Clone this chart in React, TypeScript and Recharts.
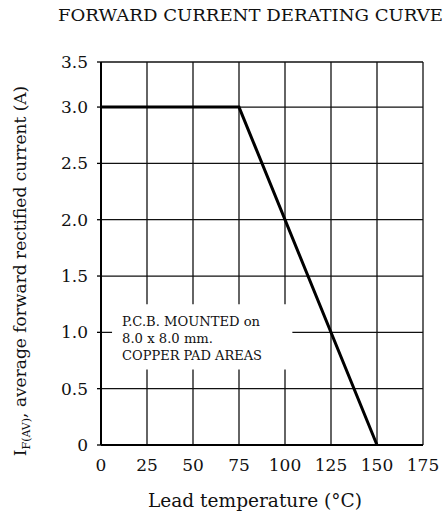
import React from 'react';
import { ComposedChart, Line, XAxis, YAxis, CartesianGrid, ReferenceArea } from 'recharts';

const temperatures = [0, 75, 150];
const currents = [3.0, 3.0, 0];
const xTicks = [0, 25, 50, 75, 100, 125, 150, 175];
const yTicks = [0, 0.5, 1.0, 1.5, 2.0, 2.5, 3.0, 3.4];
const yTickLabels = ['0', '0.5', '1.0', '1.5', '2.0', '2.5', '3.0', '3.5'];
const noteLines = ['P.C.B. MOUNTED on', '8.0 x 8.0 mm.', 'COPPER PAD AREAS'];
const noteWidths = [138, 91, 140];
const title = 'FORWARD CURRENT DERATING CURVE';
const xLabel = 'Lead temperature (°C)';

const data = temperatures.map((t, i) => ({ t, cur: currents[i] }));
const FONT = '"DejaVu Serif", serif';

const NoteLabel = (props: any) => {
  const vb = props.viewBox || { x: 0, y: 0 };
  const offsets = [22, 39, 56];
  return (
    <g>
      {noteLines.map((s, i) => (
        <text
          key={i}
          x={vb.x + 10}
          y={vb.y + offsets[i]}
          fontSize={12}
          fontFamily={FONT}
          fill="#111"
          textLength={noteWidths[i]}
          lengthAdjust="spacingAndGlyphs"
        >
          {s}
        </text>
      ))}
    </g>
  );
};

export default function App() {
  return (
    <div style={{ position: 'absolute', left: 0, top: 0, width: 445, height: 518, background: '#fff' }}>
      <ComposedChart
        width={445}
        height={518}
        data={data}
        margin={{ top: 62, right: 22, left: 0, bottom: 0 }}
      >
        <CartesianGrid stroke="#111" strokeWidth={1.3} />
        <XAxis
          dataKey="t"
          type="number"
          domain={[0, 175]}
          ticks={xTicks}
          interval={0}
          height={73}
          tickSize={0}
          tickMargin={14}
          axisLine={{ stroke: '#000', strokeWidth: 2 }}
          tick={{ fontSize: 17, fill: '#111', fontFamily: FONT }}
        />
        <YAxis
          type="number"
          domain={[0, 3.4]}
          ticks={yTicks}
          interval={0}
          width={101}
          tickSize={4}
          tickMargin={9}
          axisLine={{ stroke: '#000', strokeWidth: 2 }}
          tickLine={{ stroke: '#000', strokeWidth: 1.3 }}
          tick={{ fontSize: 17, fill: '#111', fontFamily: FONT }}
          tickFormatter={(v: number) => yTickLabels[yTicks.indexOf(v)] ?? String(v)}
        />
        <ReferenceArea
          x1={6}
          x2={104}
          y1={0.67}
          y2={1.25}
          fill="#fff"
          fillOpacity={1}
          stroke="none"
          ifOverflow="visible"
          label={<NoteLabel />}
        />
        <Line
          dataKey="cur"
          type="linear"
          stroke="#000"
          strokeWidth={3}
          dot={false}
          isAnimationActive={false}
        />
      </ComposedChart>
      <svg
        width={445}
        height={518}
        style={{ position: 'absolute', left: 0, top: 0, pointerEvents: 'none' }}
      >
        <text x={58} y={21} fontSize={17} fontFamily={FONT} fill="#111" textLength={385} lengthAdjust="spacingAndGlyphs">
          {title}
        </text>
        <text x={148} y={507} fontSize={18} fontFamily={FONT} fill="#111" textLength={214} lengthAdjust="spacingAndGlyphs">
          {xLabel}
        </text>
        <text
          x={26}
          y={271}
          fontSize={17}
          fontFamily={FONT}
          fill="#111"
          textAnchor="middle"
          transform="rotate(-90 26 271)"
        >
          I<tspan fontSize={11} dy={4}>F(AV)</tspan>
          <tspan dy={-4}>, average forward rectified current (A)</tspan>
        </text>
      </svg>
    </div>
  );
}
